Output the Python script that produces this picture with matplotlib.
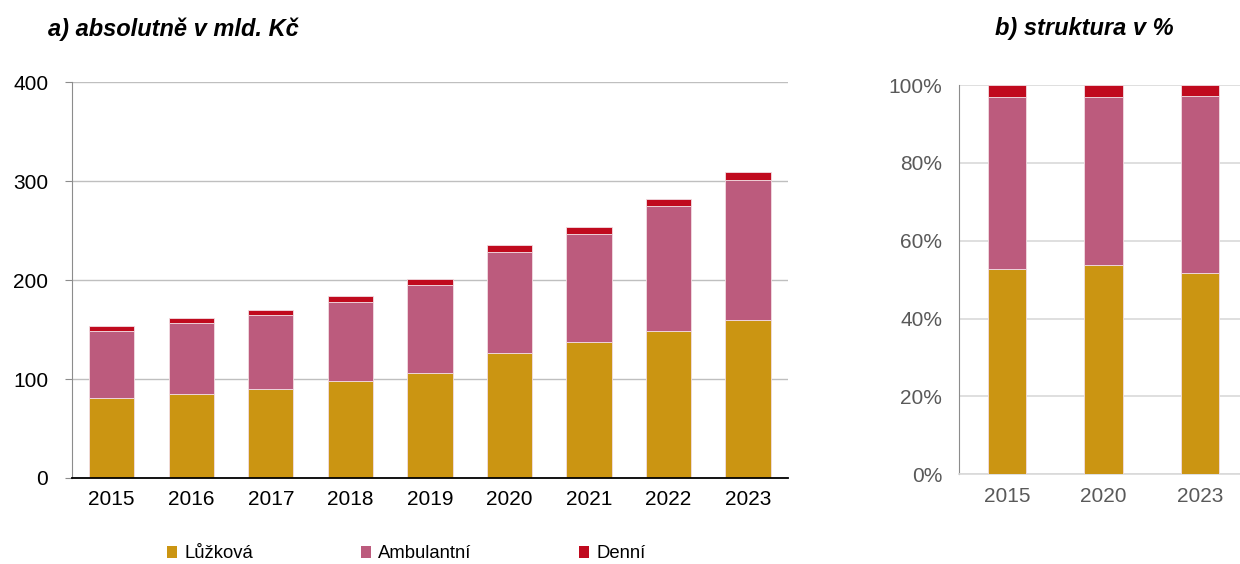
import numpy as np
import matplotlib
matplotlib.use('Agg')
import matplotlib.pyplot as plt
from matplotlib.patches import Patch
from matplotlib.ticker import FuncFormatter

plt.rcParams['font.family'] = ['Liberation Sans', 'DejaVu Sans']

# a) absolutne v mld. Kc
years = ['2015', '2016', '2017', '2018', '2019', '2020', '2021', '2022', '2023']
luzkova = [80.8, 85.2, 89.5, 98.0, 106.0, 126.3, 137.0, 148.5, 159.6]
ambulantni = [68.0, 71.7, 75.5, 80.1, 89.3, 102.3, 109.5, 125.9, 141.0]
denni = [4.7, 4.7, 5.0, 5.7, 6.0, 7.1, 7.3, 7.7, 8.4]

# b) struktura v %
years_b = ['2015', '2020', '2023']
luzkova_pct = [52.7, 53.7, 51.7]
ambulantni_pct = [44.2, 43.2, 45.5]
denni_pct = [3.1, 3.1, 2.8]

labels = ['Lůžková', 'Ambulantní', 'Denní']
colors = ['#CB9512', '#BC5B7D', '#C00A1E']

fig = plt.figure(figsize=(12.4, 5.64), dpi=100)

# left chart
ax = fig.add_axes([0.058, 0.1525, 0.5774, 0.702])
x = np.arange(len(years))
bottom = np.zeros(len(years))
for vals, c in zip([luzkova, ambulantni, denni], colors):
    ax.bar(x, vals, 0.57, bottom=bottom, color=c, edgecolor='#F2DDE3', linewidth=0.6, zorder=3)
    bottom += np.array(vals)
ax.set_xlim(-0.5, len(years) - 0.5)
ax.set_ylim(0, 400)
ax.set_yticks([0, 100, 200, 300, 400])
ax.set_xticks(x)
ax.set_xticklabels(years)
ax.yaxis.grid(True, color='#BFBFBF', linewidth=1.0, zorder=0)
for s in ['top', 'right']:
    ax.spines[s].set_visible(False)
ax.spines['left'].set_color('#8C8C8C')
ax.spines['bottom'].set_color('black')
ax.spines['bottom'].set_linewidth(1.3)
ax.spines['bottom'].set_zorder(4)
ax.tick_params(axis='y', length=5, color='#8C8C8C', labelsize=15, pad=12)
ax.tick_params(axis='x', length=0, labelsize=15, pad=9)

# right chart
ax2 = fig.add_axes([0.7734, 0.159, 0.233, 0.690])
x2 = np.arange(len(years_b))
bottom = np.zeros(len(years_b))
for vals, c in zip([luzkova_pct, ambulantni_pct, denni_pct], colors):
    ax2.bar(x2, vals, 0.40, bottom=bottom, color=c, edgecolor='#F2DDE3', linewidth=0.6, zorder=3)
    bottom += np.array(vals)
ax2.set_xlim(-0.5, len(years_b) - 0.5)
ax2.set_ylim(0, 100)
ax2.set_yticks([0, 20, 40, 60, 80, 100])
ax2.yaxis.set_major_formatter(FuncFormatter(lambda v, p: f'{v:.0f}%'))
ax2.set_xticks(x2)
ax2.set_xticklabels(years_b)
ax2.yaxis.grid(True, color='#D9D9D9', linewidth=1.2, zorder=0)
for s in ['top', 'right']:
    ax2.spines[s].set_visible(False)
ax2.spines['left'].set_color('#8C8C8C')
ax2.spines['bottom'].set_color('#D9D9D9')
ax2.spines['bottom'].set_linewidth(1.2)
ax2.tick_params(axis='y', length=0, labelsize=15, labelcolor='#595959', pad=12)
ax2.tick_params(axis='x', length=0, labelsize=15, labelcolor='#595959', pad=9)

# titles
fig.text(48 / 1240, 1 - 29 / 564, 'a) absolutně v mld. Kč', fontsize=17, fontweight='bold',
         style='italic', ha='left', va='center')
fig.text(1084 / 1240, 1 - 29 / 564, 'b) struktura v %', fontsize=17, fontweight='bold',
         style='italic', ha='center', va='center')

# legend
handles = [Patch(facecolor=c, edgecolor='none') for c in colors]
fig.legend(handles, labels, loc='center left', bbox_to_anchor=(158 / 1240, 1 - 554 / 564),
           ncol=3, frameon=False, fontsize=13.3, handlelength=0.55, handleheight=0.55,
           handletextpad=0.4, columnspacing=5.8, borderpad=0)

fig.savefig('out.png', dpi=100)
